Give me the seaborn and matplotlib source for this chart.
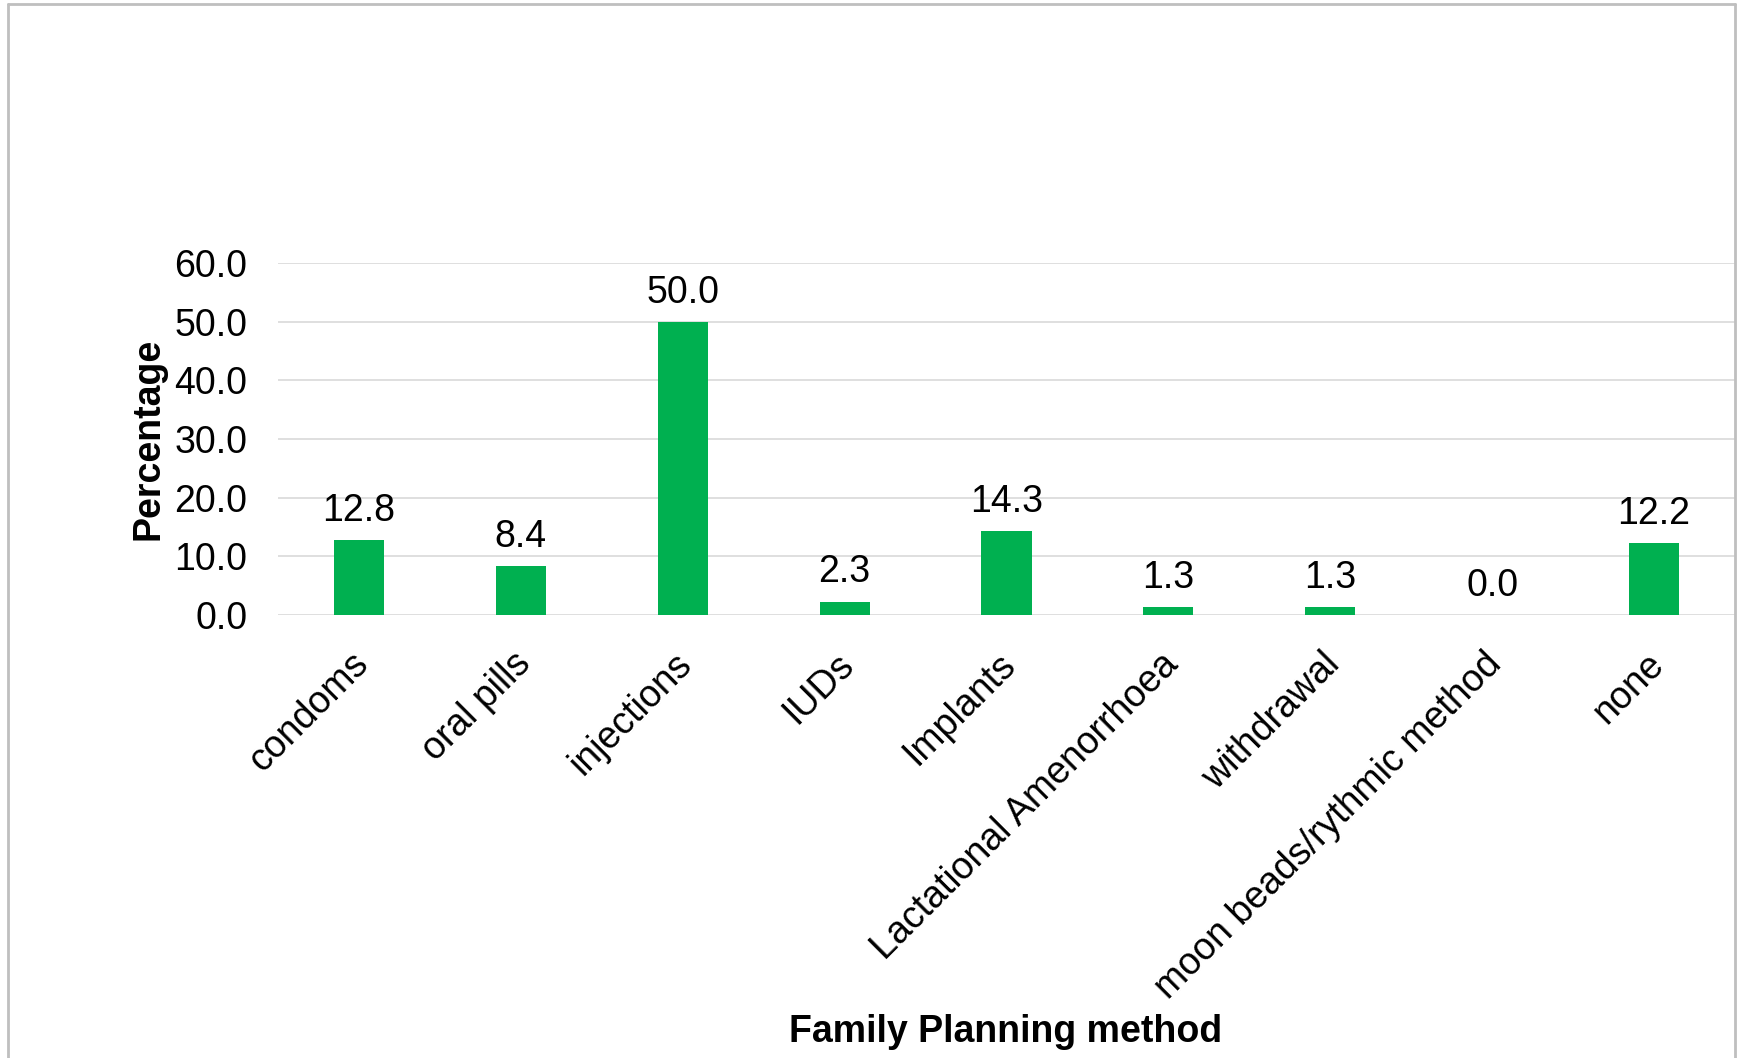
import matplotlib
matplotlib.use("Agg")
import matplotlib.pyplot as plt
import matplotlib.transforms as mtransforms
import seaborn as sns
import pandas as pd
from matplotlib.lines import Line2D

categories = ["condoms", "oral pills", "injections", "IUDs", "Implants",
              "Lactational Amenorrhoea", "withdrawal", "moon beads/rythmic method", "none"]
values = [12.8, 8.4, 50.0, 2.3, 14.3, 1.3, 1.3, 0.0, 12.2]
yticks = [0, 10, 20, 30, 40, 50, 60]

sns.set_theme(style="white")
plt.rcParams["font.family"] = ["Liberation Sans", "DejaVu Sans"]

W, H = 1739, 1058
fig = plt.figure(figsize=(W / 100, H / 100), dpi=100)
fig.patch.set_facecolor("white")
ax = fig.add_axes([278 / W, 1 - 615 / H, (1735 - 278) / W, (615 - 263) / H])

df = pd.DataFrame({"method": categories, "pct": values})
sns.barplot(data=df, x="method", y="pct", color="#00B050", saturation=1,
            width=0.31, ax=ax, edgecolor="none")

ax.set_ylim(0, 60)
ax.set_yticks(yticks)
ax.set_yticklabels([f"{v:.1f}" for v in yticks])
ax.set_xlim(-0.5, len(categories) - 0.5)
ax.yaxis.grid(True, color="#d9d9d9", linewidth=1.2)
ax.set_axisbelow(True)
for s in ax.spines.values():
    s.set_visible(False)
ax.tick_params(axis="y", length=0, pad=22, labelsize=27, labelcolor="black")
ax.tick_params(axis="x", length=0, pad=30, labelsize=27, labelcolor="black")
shift = mtransforms.ScaledTranslation(4 / 100, -2 / 100, fig.dpi_scale_trans)
for lab in ax.get_xticklabels():
    lab.set_rotation(45)
    lab.set_ha("right")
    lab.set_va("center")
    lab.set_rotation_mode("anchor")
    lab.set_transform(lab.get_transform() + shift)

for i, v in enumerate(values):
    ax.annotate(f"{v:.1f}", (i, v), xytext=(0, 8), textcoords="offset points",
                ha="center", va="bottom", fontsize=27, color="black")

ax.set_xlabel("")
ax.set_ylabel("Percentage", fontsize=27, fontweight="bold", color="black", labelpad=6)
fig.text(1006 / W, 1 - 1032 / H, "Family Planning method", fontsize=27,
         fontweight="bold", ha="center", va="center", color="black")

# outer frame
c = "#bfbfbf"
fig.add_artist(Line2D([8 / W, 8 / W], [0, 1 - 4 / H], color=c, lw=2, transform=fig.transFigure))
fig.add_artist(Line2D([8 / W, 1735 / W], [1 - 4 / H, 1 - 4 / H], color=c, lw=2, transform=fig.transFigure))
fig.add_artist(Line2D([1735 / W, 1735 / W], [0, 1 - 4 / H], color=c, lw=2, transform=fig.transFigure))

fig.savefig("out.png", dpi=100)
